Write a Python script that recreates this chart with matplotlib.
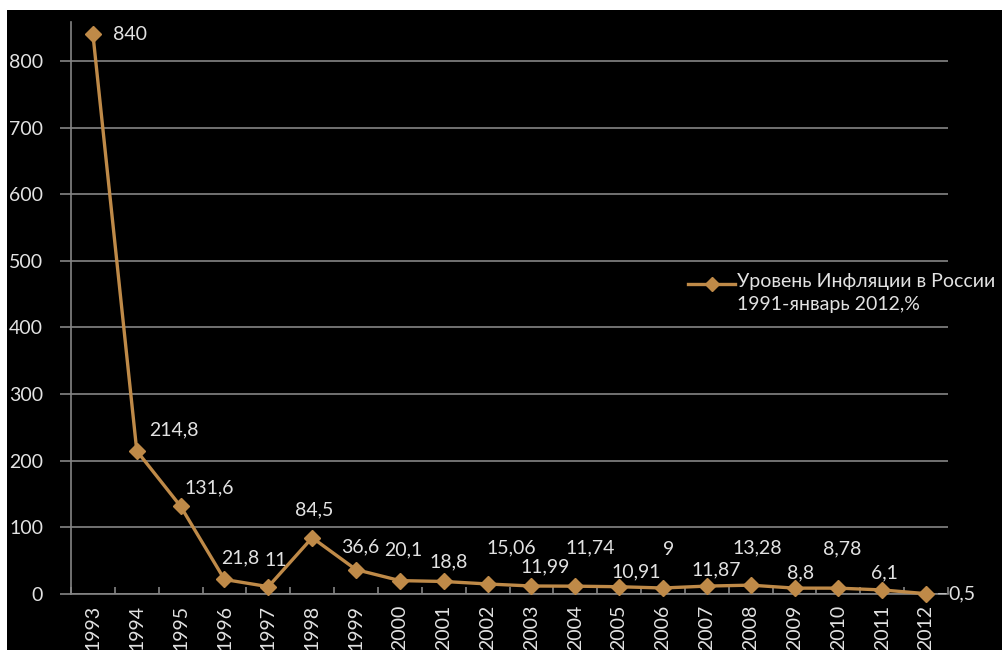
import matplotlib.pyplot as plt
from matplotlib.lines import Line2D
from matplotlib.patches import Rectangle

# --- DONNÉES ---
years = ['1993', '1994', '1995', '1996', '1997', '1998', '1999', '2000', '2001', '2002',
         '2003', '2004', '2005', '2006', '2007', '2008', '2009', '2010', '2011', '2012']
inflation = [840, 214.8, 131.6, 21.8, 11, 84.5, 36.6, 20.1, 18.8, 15.06,
             11.99, 11.74, 10.91, 9, 11.87, 13.28, 8.8, 8.78, 6.1, 0.5]
labels = ['840', '214,8', '131,6', '21,8', '11', '84,5', '36,6', '20,1', '18,8', '15,06',
          '11,99', '11,74', '10,91', '9', '11,87', '13,28', '8,8', '8,78', '6,1', '0,5']
legend_text = 'Уровень Инфляции в России\n1991-январь 2012,%'
y_ticks = [0, 100, 200, 300, 400, 500, 600, 700, 800]

# décalages des étiquettes (pixels), placés à la main comme dans Excel
label_offsets = [(37, 0), (37, 21), (29, 18), (16, 22), (7, 26), (2, 28), (4, 23), (3, 31),
                 (5, 20), (24, 36), (14, 19), (15, 38), (17, 15), (6, 39), (9, 16), (7, 37),
                 (6, 15), (4, 39), (2, 17), (36, 0)]

LINE_COL = '#BF8A48'
TXT_COL = '#E2E2E2'
GRID_COL = '#858585'
FONT = ['Lato', 'DejaVu Sans']
FS = 14

plt.rcParams['font.family'] = FONT

W, H = 1002, 650
fig = plt.figure(figsize=(W / 100, H / 100), dpi=100, facecolor='white')
fig.add_artist(Rectangle((7 / W, 0), 1 - 7 / W, 1 - 10 / H, transform=fig.transFigure,
                         facecolor='black', edgecolor='none', zorder=-10))

ax = fig.add_axes([71 / W, 1 - 594 / H, (948 - 71) / W, (594 - 22) / H])
ax.set_facecolor('black')

x = list(range(len(years)))
ax.plot(x, inflation, color=LINE_COL, lw=2.4, marker='D', markersize=8.5,
        markeredgecolor=LINE_COL, zorder=5, clip_on=False)

for i, (v, lab) in enumerate(zip(inflation, labels)):
    dx, dy = label_offsets[i]
    ax.annotate(lab, (i, v), xytext=(dx, dy), textcoords='offset pixels',
                ha='center', va='center', color=TXT_COL, fontsize=FS, zorder=6,
                annotation_clip=False)

# ligne de rappel pour la dernière étiquette
ax.annotate('', (len(years) - 1, inflation[-1]), xytext=(20, 0), textcoords='offset pixels',
            arrowprops=dict(arrowstyle='-', color='#BBBBBB', lw=1, shrinkA=0, shrinkB=9),
            annotation_clip=False)

ax.set_xlim(-0.5, len(years) - 0.5)
ax.set_ylim(0, 858.5)
ax.set_yticks(y_ticks)
ax.set_yticklabels([str(t) for t in y_ticks])
ax.grid(axis='y', color=GRID_COL, lw=1.2)
ax.set_axisbelow(True)

ax.set_xticks(x)
ax.set_xticklabels(years, rotation=90)
ax.set_xticks([i - 0.5 for i in range(len(years) + 1)], minor=True)
ax.tick_params(axis='x', which='major', length=0, pad=8, labelsize=FS, labelcolor=TXT_COL)
ax.tick_params(axis='x', which='minor', length=5, color=GRID_COL, width=1.2, direction='in')
ax.tick_params(axis='y', length=8, color=GRID_COL, width=1.2, pad=12, labelsize=FS,
               labelcolor=TXT_COL)

for s in ['top', 'right']:
    ax.spines[s].set_visible(False)
for s in ['left', 'bottom']:
    ax.spines[s].set_color(GRID_COL)
    ax.spines[s].set_linewidth(1.2)

# légende
ly = 1 - 284 / H
fig.add_artist(Line2D([688 / W, 735 / W], [ly, ly], transform=fig.transFigure,
                      color=LINE_COL, lw=2.4))
fig.add_artist(Line2D([711.5 / W], [ly], transform=fig.transFigure, color=LINE_COL,
                      marker='D', markersize=7, ls='none'))
fig.text(737 / W, ly + 11 / H, legend_text, color=TXT_COL, fontsize=FS, ha='left', va='top',
         linespacing=1.45, transform=fig.transFigure)

plt.savefig('out.png', dpi=100, facecolor='white')
